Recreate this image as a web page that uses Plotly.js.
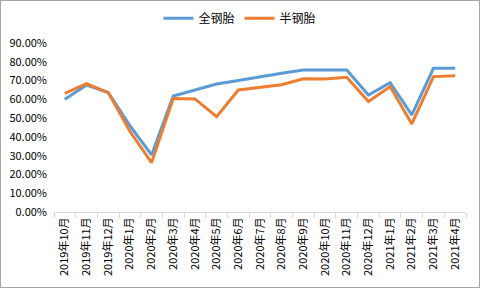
<!DOCTYPE html>
<html>
<head>
<meta charset="utf-8">
<script src="https://cdn.plot.ly/plotly-3.0.1.min.js"></script>
<style>
html,body{margin:0;padding:0;background:#fff;}
#chart{width:478px;height:286px;border:1px solid #a6a6a6;}
</style>
</head>
<body>
<div id="chart"></div>
<script>
var categories = ["2019年10月","2019年11月","2019年12月","2020年1月","2020年2月","2020年3月","2020年4月","2020年5月","2020年6月","2020年7月","2020年8月","2020年9月","2020年10月","2020年11月","2020年12月","2021年1月","2021年2月","2021年3月","2021年4月"];
var allSteel = [60.0, 67.6, 63.6, 46.0, 30.4, 61.8, 65.0, 68.2, 70.0, 72.1, 73.9, 75.6, 75.6, 75.6, 62.3, 68.9, 51.7, 76.5, 76.5];
var semiSteel = [63.2, 68.3, 63.6, 43.0, 26.3, 60.4, 60.2, 50.8, 65.0, 66.4, 67.8, 70.9, 70.8, 71.7, 58.8, 66.8, 46.9, 72.1, 72.6];
var yTicks = [0,10,20,30,40,50,60,70,80,90];
var seriesNames = ["全钢胎","半钢胎"];

var font = "'Noto Sans CJK SC', 'Noto Sans', sans-serif";
var traces = [
  {x: categories, y: allSteel, name: seriesNames[0], type: 'scatter', mode: 'lines',
   line: {color: '#5B9BD5', width: 3}},
  {x: categories, y: semiSteel, name: seriesNames[1], type: 'scatter', mode: 'lines',
   line: {color: '#ED7D31', width: 3}}
];
var layout = {
  width: 478, height: 286,
  margin: {l: 53, r: 13, t: 42, b: 75, autoexpand: false},
  paper_bgcolor: '#fff', plot_bgcolor: '#fff',
  font: {family: font, size: 11, color: '#000'},
  showlegend: true,
  legend: {orientation: 'h', x: 0.5, xanchor: 'center', xref: 'container',
           y: 0.94, yanchor: 'middle', yref: 'container',
           font: {size: 12, color: '#000'}, itemwidth: 30, tracegroupgap: 0},
  xaxis: {type: 'category', showgrid: false, showline: true, linecolor: '#d9d9d9', linewidth: 1,
          ticks: 'outside', ticklen: 5, tickcolor: '#d9d9d9', tickson: 'boundaries',
          tickangle: -90, tickfont: {size: 11, color: '#000'}, zeroline: false,
          range: [-0.5, categories.length - 0.5]},
  yaxis: {range: [0, 90], tickvals: yTicks, ticktext: yTicks.map(function(v){return v.toFixed(2) + '%';}),
          showgrid: false, showline: false, zeroline: false, ticks: '',
          tickfont: {size: 11, color: '#000'}, ticklabelstandoff: 6}
};
Plotly.newPlot('chart', traces, layout, {displayModeBar: false, staticPlot: true});
</script>
</body>
</html>
